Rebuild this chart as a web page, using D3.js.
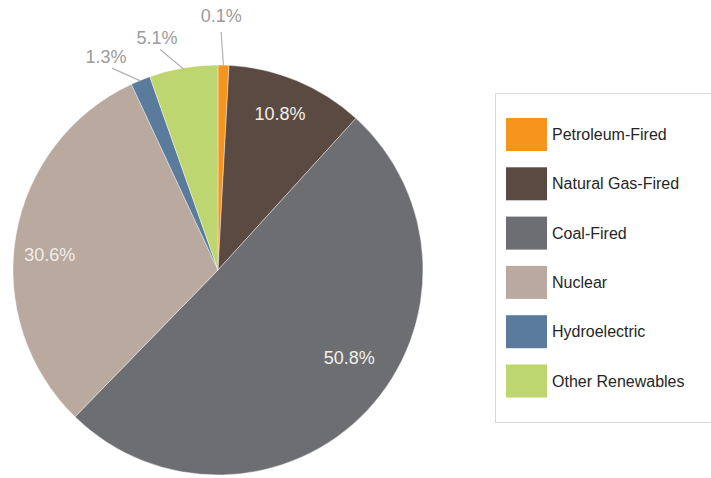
<!DOCTYPE html>
<html><head><meta charset="utf-8">
<script src="https://cdn.jsdelivr.net/npm/d3@7"></script>
<style>body{margin:0;background:#fff;} svg{display:block;}</style>
</head><body>
<svg id="c" width="711" height="478"></svg>
<script>
const categories = ["Petroleum-Fired","Natural Gas-Fired","Coal-Fired","Nuclear","Hydroelectric","Other Renewables"];
const values = [0.86, 10.9, 50.6, 30.8, 1.55, 5.4];
const labels = ["0.1%","10.8%","50.8%","30.6%","1.3%","5.1%"];
const colors = ["#f7941d","#5a4a42","#6d6e71","#b9a99f","#5b7b9c","#bed66f"];

const svg = d3.select("#c");
const cx = 218, cy = 270, R = 205;
const g = svg.append("g").attr("transform",`translate(${cx},${cy})`);
const pie = d3.pie().sort(null).value(d=>d.v);
const data = pie(categories.map((c,i)=>({c, v: values[i], l: labels[i], col: colors[i]})));
const arc = d3.arc().innerRadius(0).outerRadius(R);
g.selectAll("path").data(data).enter().append("path")
  .attr("d", arc).attr("fill", d=>d.data.col)
  .attr("stroke","#fff").attr("stroke-width",0.4);

const inside = {"Natural Gas-Fired":{r:168,da:-1},"Coal-Fired":{r:158,da:-9.5},"Nuclear":{r:169,da:-4.5}};
const outside = {"Petroleum-Fired":{r1:238,da:-0.8,lr:254}, "Other Renewables":{r1:228,da:-5,lr:240}, "Hydroelectric":{r1:228,da:-5.5,lr:241}};
const font = "Liberation Sans, Arial, sans-serif";
data.forEach(d=>{
  const mid = (d.startAngle+d.endAngle)/2;
  const name = d.data.c;
  if (inside[name]) {
    const o = inside[name]; const a = mid + o.da*Math.PI/180;
    g.append("text").attr("x", o.r*Math.sin(a)).attr("y", -o.r*Math.cos(a))
      .attr("text-anchor","middle").attr("dominant-baseline","central")
      .attr("font-family",font).attr("font-size",18).attr("fill","#f2eeea").text(d.data.l);
  } else if (outside[name]) {
    const o = outside[name]; const a1 = mid; const a2 = mid + o.da*Math.PI/180;
    const x0 = (R-1)*Math.sin(a1), y0 = -(R-1)*Math.cos(a1);
    const x1 = o.r1*Math.sin(a2), y1 = -o.r1*Math.cos(a2);
    g.append("line").attr("x1",x0).attr("y1",y0).attr("x2",x1).attr("y2",y1)
      .attr("stroke","#b3b3b3").attr("stroke-width",1.2);
    g.append("text").attr("x", o.lr*Math.sin(a2)).attr("y", -o.lr*Math.cos(a2))
      .attr("text-anchor","middle").attr("dominant-baseline","central")
      .attr("font-family",font).attr("font-size",18).attr("fill","#9b9b9b").text(d.data.l);
  }
});

const lg = svg.append("g");
lg.append("rect").attr("x",495.5).attr("y",93.5).attr("width",240).attr("height",329)
  .attr("fill","#fff").attr("stroke","#d9d9d9").attr("stroke-width",1);
const ly = d3.scalePoint().domain(categories).range([134.5,381]);
categories.forEach((c,i)=>{
  lg.append("rect").attr("x",506).attr("y",ly(c)-16.5).attr("width",41).attr("height",33).attr("fill",colors[i]);
  lg.append("text").attr("x",552).attr("y",ly(c)).attr("dominant-baseline","central")
    .attr("font-family",font).attr("font-size",16).attr("fill","#262626").text(c);
});
</script>
</body></html>
